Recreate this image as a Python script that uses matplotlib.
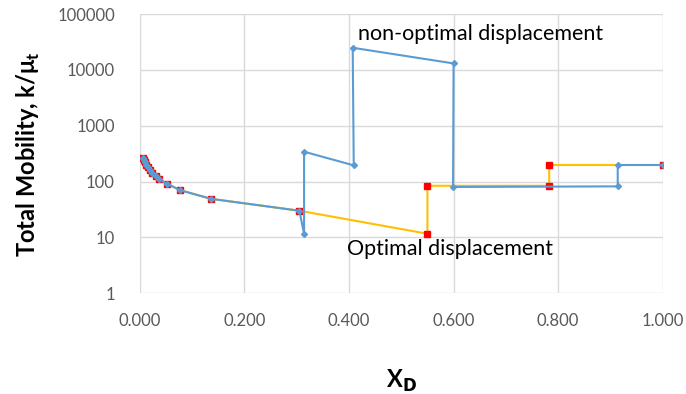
import numpy as np
import matplotlib.pyplot as plt

# non-optimal displacement (blue)
x_non = [0.005, 0.007, 0.009, 0.012, 0.015, 0.019, 0.024, 0.030, 0.036, 0.051, 0.077, 0.136, 0.305,
         0.314, 0.314, 0.409, 0.407, 0.600, 0.599, 0.914, 0.914, 1.000]
y_non = [265, 240, 220, 200, 180, 160, 145, 125, 112, 92, 70, 49, 30,
         11.5, 343, 195, 25000, 13100, 80, 82, 198, 198]

# optimal displacement (yellow)
x_opt = [0.005, 0.007, 0.009, 0.012, 0.015, 0.019, 0.024, 0.030, 0.036, 0.051, 0.077, 0.136, 0.305,
         0.550, 0.550, 0.783, 0.783, 1.000]
y_opt = [265, 240, 220, 200, 180, 160, 145, 125, 112, 92, 70, 49, 30,
         11.6, 84, 84, 198, 198]

xticks = [0, 0.2, 0.4, 0.6, 0.8, 1.0]
yticks = [1, 10, 100, 1000, 10000, 100000]

plt.rcParams['font.family'] = ['Lato', 'DejaVu Sans']

fig = plt.figure(figsize=(6.86, 3.94), dpi=100)
ax = fig.add_axes([0.204, 0.256, 0.762, 0.708])

ax.plot(x_opt, y_opt, color='#ffc000', lw=1.5, marker='s', ms=5,
        mfc='#ff0000', mec='#ff0000', zorder=3)
ax.plot(x_non, y_non, color='#5b9bd5', lw=1.5, marker='D', ms=3,
        mfc='#5b9bd5', mec='#5b9bd5', zorder=4)

ax.set_yscale('log')
ax.set_xlim(0, 1)
ax.set_ylim(1, 100000)
ax.set_xticks(xticks)
ax.set_xticklabels([f'{v:.3f}' for v in xticks])
ax.set_yticks(yticks)
ax.set_yticklabels([str(v) for v in yticks])
ax.minorticks_off()
ax.tick_params(length=0, labelsize=12, labelcolor='#595959')
ax.tick_params(axis='x', pad=14)
ax.tick_params(axis='y', pad=18)
ax.grid(True, color='#d9d9d9', lw=1)
ax.set_axisbelow(True)
for s in ax.spines.values():
    s.set_visible(False)

ax.set_ylabel('Total Mobility, k/μ$_\\mathregular{t}$', fontsize=17, fontweight='bold', labelpad=11)
ax.set_xlabel(r'X$_\mathbf{D}$', fontsize=17, fontweight='bold', labelpad=28)

ax.text(0.418, 45000, 'non-optimal displacement', fontsize=15.5, va='center', ha='left')
ax.text(0.397, 6.3, 'Optimal displacement', fontsize=15.5, va='center', ha='left')

fig.savefig('out.png', dpi=100)
